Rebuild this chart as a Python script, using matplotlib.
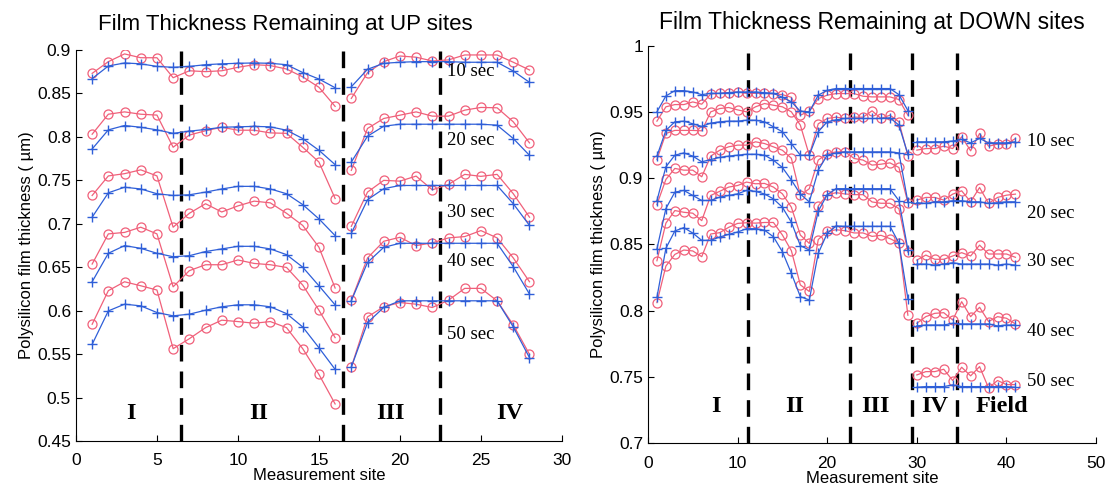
import matplotlib
matplotlib.use("Agg")
import matplotlib.pyplot as plt
import numpy as np

plt.rcParams["font.family"] = ["Liberation Sans", "DejaVu Sans"]

# ── UP sites (left panel) ────────────────────────────────────────────────────
up_sites = np.arange(1, 29)
up_labels = ["10 sec", "20 sec", "30 sec", "40 sec", "50 sec"]
up_label_y = [0.875, 0.796, 0.713, 0.657, 0.573]
up_regions = ["I", "II", "III", "IV"]
up_region_x = [3.4, 11.3, 19.4, 26.8]
up_dividers = [6.5, 16.5, 22.5]

up_red = [
    [0.873, 0.8865, 0.8954, 0.891, 0.891, 0.868, 0.876, 0.875, 0.876, 0.880, 0.883, 0.882, 0.878, 0.869,
     0.857, 0.835, 0.8442, 0.8738, 0.8865, 0.893, 0.8916, 0.8873, 0.8885, 0.8942, 0.8942, 0.8942, 0.8858, 0.8769],
    [0.803, 0.826, 0.8287, 0.826, 0.825, 0.788, 0.802, 0.807, 0.811, 0.8076, 0.8076, 0.8045, 0.804, 0.788,
     0.771, 0.729, 0.7614, 0.8096, 0.8211, 0.8249, 0.8287, 0.8238, 0.8238, 0.8307, 0.8338, 0.8334, 0.8172, 0.793],
    [0.7325, 0.755, 0.7576, 0.762, 0.755, 0.696, 0.712, 0.723, 0.7135, 0.7205, 0.726, 0.724, 0.712, 0.698,
     0.673, 0.626, 0.697, 0.7364, 0.7499, 0.749, 0.7548, 0.739, 0.7452, 0.7568, 0.7545, 0.7568, 0.7345, 0.7075],
    [0.6536, 0.6883, 0.690, 0.696, 0.6883, 0.6274, 0.646, 0.6528, 0.6528, 0.6583, 0.6543, 0.6528, 0.6497, 0.6294,
     0.6005, 0.5689, 0.612, 0.6606, 0.6798, 0.6844, 0.6748, 0.678, 0.6837, 0.6852, 0.6921, 0.6837, 0.6606, 0.6332],
    [0.5843, 0.623, 0.6332, 0.6286, 0.6237, 0.5562, 0.5677, 0.5804, 0.589, 0.5874, 0.5855, 0.5874, 0.5804, 0.5562,
     0.5266, 0.4926, 0.535, 0.5928, 0.6044, 0.6093, 0.6074, 0.6036, 0.612, 0.6256, 0.6256, 0.6113, 0.5835, 0.5497],
]
up_blue = [
    [0.867, 0.8815, 0.885, 0.884, 0.881, 0.880, 0.881, 0.883, 0.884, 0.8846, 0.885, 0.8846, 0.883, 0.874,
     0.8665, 0.8565, 0.8576, 0.8777, 0.8846, 0.8858, 0.8865, 0.8865, 0.8865, 0.8858, 0.8858, 0.8858, 0.8757, 0.8627],
    [0.786, 0.808, 0.813, 0.811, 0.808, 0.804, 0.8065, 0.8085, 0.811, 0.8115, 0.812, 0.8115, 0.8076, 0.798,
     0.7845, 0.768, 0.771, 0.8007, 0.8122, 0.8145, 0.8145, 0.8145, 0.8145, 0.8145, 0.8145, 0.8134, 0.798, 0.7787],
    [0.7075, 0.7356, 0.742, 0.740, 0.7345, 0.7325, 0.7333, 0.7364, 0.740, 0.743, 0.743, 0.740, 0.7345, 0.722,
     0.7056, 0.6863, 0.689, 0.7276, 0.7403, 0.744, 0.744, 0.744, 0.744, 0.744, 0.744, 0.744, 0.723, 0.698],
    [0.6332, 0.666, 0.6748, 0.6717, 0.666, 0.662, 0.6632, 0.668, 0.671, 0.674, 0.674, 0.671, 0.6644, 0.650,
     0.6286, 0.6066, 0.6113, 0.6555, 0.6728, 0.6775, 0.6775, 0.6775, 0.6775, 0.6775, 0.6775, 0.6775, 0.6505, 0.619],
    [0.5612, 0.5997, 0.6074, 0.6055, 0.5978, 0.594, 0.5959, 0.6005, 0.6044, 0.6067, 0.6067, 0.6044, 0.5966, 0.5812,
     0.5573, 0.5324, 0.535, 0.5862, 0.6036, 0.6113, 0.6113, 0.6113, 0.6113, 0.6113, 0.6113, 0.6113, 0.5812, 0.5458],
]

# ── DOWN sites (right panel) ─────────────────────────────────────────────────
dn_sites = np.arange(1, 42)
dn_label_y = [0.9274, 0.8734, 0.8369, 0.784, 0.7464]
dn_regions = ["I", "II", "III", "IV", "Field"]
dn_region_x = [7.6, 16.4, 25.4, 32.0, 39.5]
dn_dividers = [11.2, 22.5, 29.5, 34.5]

dn_red = [
    [0.943, 0.9538, 0.9555, 0.9555, 0.9575, 0.9558, 0.9635, 0.964, 0.9645, 0.965, 0.964, 0.964, 0.964, 0.9635,
     0.963, 0.961, 0.9475, 0.9505, 0.960, 0.9626, 0.9638, 0.9638, 0.9638, 0.9618, 0.9613, 0.9613, 0.9613, 0.9593,
     0.9475, 0.9211, 0.9223, 0.9223, 0.9241, 0.9223, 0.9312, 0.9206, 0.9337, 0.9241, 0.9256, 0.9256, 0.9299],
    [0.914, 0.9337, 0.936, 0.936, 0.936, 0.9357, 0.950, 0.9525, 0.9533, 0.9515, 0.950, 0.9538, 0.9563, 0.955,
     0.9538, 0.950, 0.940, 0.9173, 0.941, 0.945, 0.946, 0.945, 0.946, 0.946, 0.9508, 0.945, 0.9475, 0.9425,
     0.917, 0.8834, 0.8854, 0.8854, 0.8834, 0.8879, 0.8904, 0.8821, 0.8929, 0.8809, 0.8854, 0.8871, 0.8879],
    [0.880, 0.899, 0.9073, 0.906, 0.906, 0.901, 0.9166, 0.921, 0.9236, 0.9249, 0.9249, 0.9274, 0.9261, 0.9236,
     0.921, 0.915, 0.887, 0.892, 0.9136, 0.9185, 0.9198, 0.9198, 0.9148, 0.9136, 0.9098, 0.9105, 0.9115, 0.908,
     0.8814, 0.8381, 0.8419, 0.8387, 0.8387, 0.8412, 0.8437, 0.8412, 0.8494, 0.8427, 0.8427, 0.8427, 0.8402],
    [0.8376, 0.866, 0.8755, 0.8742, 0.8735, 0.8679, 0.8869, 0.890, 0.8932, 0.8944, 0.897, 0.8957, 0.896, 0.8932,
     0.8881, 0.878, 0.857, 0.8507, 0.879, 0.8875, 0.889, 0.888, 0.8875, 0.8875, 0.882, 0.881, 0.881, 0.877,
     0.844, 0.7904, 0.7954, 0.7979, 0.7984, 0.7929, 0.8067, 0.7954, 0.8025, 0.7917, 0.7954, 0.7942, 0.7899],
    [0.806, 0.8336, 0.8424, 0.8457, 0.845, 0.8407, 0.8578, 0.8588, 0.8628, 0.8658, 0.8663, 0.866, 0.8665, 0.8665,
     0.857, 0.8452, 0.8194, 0.8144, 0.8536, 0.8598, 0.861, 0.8603, 0.8586, 0.8586, 0.856, 0.8568, 0.8543, 0.851,
     0.7965, 0.7514, 0.7539, 0.7539, 0.7557, 0.7472, 0.7572, 0.7507, 0.7577, 0.7416, 0.7472, 0.7441, 0.7441],
]
dn_blue = [
    [0.950, 0.962, 0.966, 0.966, 0.965, 0.963, 0.964, 0.964, 0.9645, 0.965, 0.965, 0.965, 0.9645, 0.964,
     0.961, 0.9576, 0.9505, 0.950, 0.9626, 0.9663, 0.9676, 0.9676, 0.9676, 0.9676, 0.9676, 0.9676, 0.9676, 0.963,
     0.951, 0.9274, 0.9274, 0.9274, 0.9274, 0.928, 0.9292, 0.9266, 0.9299, 0.9266, 0.9266, 0.9266, 0.9274],
    [0.9166, 0.936, 0.9425, 0.943, 0.941, 0.939, 0.9415, 0.9425, 0.943, 0.943, 0.9437, 0.9437, 0.9425, 0.9387,
     0.935, 0.926, 0.9173, 0.9173, 0.935, 0.9425, 0.944, 0.945, 0.945, 0.945, 0.945, 0.945, 0.9455, 0.940,
     0.918, 0.8814, 0.8809, 0.8821, 0.8821, 0.8829, 0.8829, 0.8821, 0.8821, 0.8809, 0.8814, 0.8821, 0.8821],
    [0.883, 0.9085, 0.9173, 0.919, 0.9166, 0.9123, 0.914, 0.9156, 0.9166, 0.9173, 0.918, 0.918, 0.9173, 0.9135,
     0.908, 0.8985, 0.888, 0.882, 0.906, 0.9173, 0.919, 0.9198, 0.9198, 0.9198, 0.9198, 0.9198, 0.9198, 0.919,
     0.882, 0.8351, 0.8351, 0.8343, 0.8351, 0.8361, 0.8351, 0.8351, 0.8351, 0.8351, 0.8343, 0.8351, 0.8343],
    [0.8465, 0.877, 0.8894, 0.8907, 0.8869, 0.8831, 0.8831, 0.8856, 0.8869, 0.8881, 0.8907, 0.890, 0.888, 0.8843,
     0.878, 0.8667, 0.849, 0.8457, 0.875, 0.8875, 0.892, 0.892, 0.892, 0.892, 0.892, 0.892, 0.892, 0.883,
     0.846, 0.7884, 0.7891, 0.7891, 0.7891, 0.7904, 0.7899, 0.7899, 0.7899, 0.7899, 0.7884, 0.7891, 0.7891],
    [0.810, 0.847, 0.8601, 0.8626, 0.8585, 0.853, 0.853, 0.8555, 0.8575, 0.8593, 0.8618, 0.8618, 0.8607, 0.8557,
     0.8444, 0.8281, 0.8105, 0.808, 0.8432, 0.8583, 0.8638, 0.8636, 0.8636, 0.8636, 0.8636, 0.8636, 0.8636, 0.851,
     0.809, 0.7421, 0.7426, 0.7426, 0.7426, 0.7439, 0.7426, 0.7426, 0.7426, 0.7426, 0.7426, 0.7426, 0.7421],
]

RED = "#f0607a"
BLUE = "#2f5fd8"


def style_axes(ax, xticks, yticks, yticklabels):
    ax.spines["top"].set_visible(False)
    ax.spines["right"].set_visible(False)
    ax.tick_params(direction="in", length=4, labelsize=12.5)
    ax.tick_params(axis="x", pad=9)
    ax.set_xticks(xticks)
    ax.set_yticks(yticks)
    ax.set_yticklabels(yticklabels)
    ax.set_xlabel("Measurement site", fontsize=12, labelpad=0)
    ax.set_ylabel("Polysilicon film thickness ( \u00b5m)", fontsize=12, labelpad=2)


def draw_panel(ax, sites, reds, blues, segments):
    for r, b in zip(reds, blues):
        r = np.asarray(r)
        b = np.asarray(b)
        for a, e in segments:
            ax.plot(sites[a:e], r[a:e], color=RED, marker="o", markersize=6.5,
                    mfc="none", mew=0.9, linewidth=0.9, zorder=3)
            ax.plot(sites[a:e], b[a:e], color=BLUE, marker="+", markersize=7,
                    mew=1.0, linewidth=0.9, zorder=4)


fig = plt.figure(figsize=(11.12, 4.87), dpi=100)

# ── left panel ──
ax1 = fig.add_axes([0.0683, 0.0945, 0.437, 0.803])
draw_panel(ax1, up_sites, up_red, up_blue, [(0, 16), (16, 28)])
for xd in up_dividers:
    ax1.axvline(xd, color="black", linewidth=2.4, linestyle=(0, (5, 3)), zorder=2)
for lab, yy in zip(up_labels, up_label_y):
    ax1.text(22.9, yy, lab, family="Liberation Serif", fontsize=13.5, va="center", ha="left", zorder=5)
for lab, xx in zip(up_regions, up_region_x):
    ax1.text(xx, 0.482, lab, family="Liberation Serif", fontsize=17.5, fontweight="bold",
             ha="center", va="center")
ax1.set_xlim(0, 30)
ax1.set_ylim(0.45, 0.9)
style_axes(ax1, [0, 5, 10, 15, 20, 25, 30],
           [0.45, 0.5, 0.55, 0.6, 0.65, 0.7, 0.75, 0.8, 0.85, 0.9],
           ["0.45", "0.5", "0.55", "0.6", "0.65", "0.7", "0.75", "0.8", "0.85", "0.9"])
ax1.set_title("Film Thickness Remaining at UP sites", fontsize=16, x=0.43, pad=14)

# ── right panel ──
ax2 = fig.add_axes([0.5827, 0.0903, 0.403, 0.816])
draw_panel(ax2, dn_sites, dn_red, dn_blue, [(0, 29), (29, 41)])
for xd in dn_dividers:
    ax2.axvline(xd, color="black", linewidth=2.4, linestyle=(0, (5, 3)), zorder=2)
for lab, yy in zip(up_labels, dn_label_y):
    ax2.text(42.3, yy, lab, family="Liberation Serif", fontsize=13.5, va="center", ha="left", zorder=5)
for lab, xx in zip(dn_regions, dn_region_x):
    ax2.text(xx, 0.7275, lab, family="Liberation Serif", fontsize=17.5, fontweight="bold",
             ha="center", va="center")
ax2.set_xlim(0, 50)
ax2.set_ylim(0.7, 1.0)
style_axes(ax2, [0, 10, 20, 30, 40, 50],
           [0.7, 0.75, 0.8, 0.85, 0.9, 0.95, 1.0],
           ["0.7", "0.75", "0.8", "0.85", "0.9", "0.95", "1"])
ax2.set_title("Film Thickness Remaining at DOWN sites", fontsize=16.5, pad=12)

fig.savefig("out.png", dpi=100)
